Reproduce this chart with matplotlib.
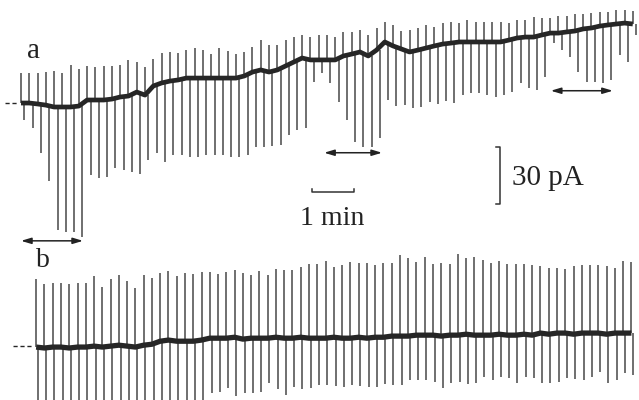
import matplotlib.pyplot as plt
import numpy as np

# trace a: one test pulse every 12 s; holding current (pA, relative to start),
# height of the upward and downward pulse transients (pA)
a_base = [0.0, 0.0, -0.5, -1.1, -2.1, -2.1, -2.1, -1.6, 1.6, 1.6,
          1.6, 2.1, 3.2, 3.7, 5.8, 4.2, 9.0, 10.6, 11.6, 12.2,
          13.2, 13.2, 13.2, 13.2, 13.2, 13.2, 13.2, 14.3, 16.4, 17.5,
          16.4, 17.5, 19.6, 21.7, 23.8, 22.8, 22.8, 22.8, 22.8, 24.9,
          25.9, 27.0, 24.9, 28.0, 32.3, 30.2, 28.6, 27.0, 28.0, 29.1,
          30.2, 31.2, 31.7, 32.3, 32.3, 32.3, 32.3, 32.3, 32.3, 33.3,
          34.4, 34.9, 34.9, 36.0, 37.0, 37.0, 37.6, 38.1, 39.2, 39.7,
          40.7, 41.3, 41.8, 42.3, 41.8]
a_up = [15.9, 15.9, 16.4, 17.5, 19.0, 18.0, 22.2, 19.6, 18.0, 17.5,
        18.0, 17.5, 16.9, 19.0, 15.9, 14.8, 14.3, 15.9, 15.3, 14.3,
        14.8, 15.9, 14.8, 12.7, 15.9, 14.3, 12.7, 12.7, 13.2, 15.9,
        14.3, 13.2, 13.8, 13.2, 12.2, 12.2, 13.2, 13.2, 12.2, 12.7,
        11.6, 11.6, 11.1, 11.6, 10.6, 11.1, 9.5, 11.6, 11.6, 12.2,
        10.1, 11.1, 11.1, 10.1, 11.6, 10.6, 10.6, 10.6, 10.6, 9.0,
        9.5, 9.0, 10.6, 9.0, 7.9, 9.0, 8.5, 9.0, 7.9, 7.9,
        7.4, 6.9, 7.4, 6.9, 6.9]
a_down = [9.0, 13.2, 25.9, 40.2, 65.1, 66.1, 66.1, 69.3, 39.7, 41.3,
          40.7, 36.5, 38.6, 40.2, 43.4, 34.4, 35.4, 41.8, 39.2, 39.7,
          41.8, 41.8, 40.7, 40.7, 40.7, 41.8, 41.8, 41.8, 39.7, 40.7,
          39.2, 39.7, 36.5, 36.0, 37.0, 11.6, 6.9, 12.2, 22.2, 33.9,
          46.6, 50.3, 48.1, 46.6, 30.7, 31.7, 29.6, 29.6, 30.2, 28.6,
          30.7, 30.2, 31.7, 28.0, 27.0, 27.0, 28.0, 29.1, 28.0, 27.5,
          23.8, 27.0, 28.0, 22.2, 5.3, 9.0, 13.2, 21.7, 28.0, 28.6,
          30.2, 29.1, 16.4, 20.6, 5.8]

# trace b
b_base = [-0.5, -1.0, -0.5, -0.5, -1.0, -0.5, -0.5, 0.0, -0.5, 0.0,
          0.5, 0.0, -0.5, 0.5, 1.0, 2.6, 3.2, 2.6, 2.6, 2.6,
          3.2, 4.2, 4.2, 4.2, 4.7, 3.7, 4.2, 4.2, 4.2, 4.7,
          4.2, 4.2, 4.7, 4.2, 4.2, 4.2, 4.7, 4.2, 4.2, 4.7,
          4.2, 4.7, 4.7, 5.3, 5.3, 5.3, 5.8, 5.8, 5.8, 5.3,
          5.8, 5.8, 6.3, 5.8, 5.8, 5.8, 6.3, 5.8, 5.8, 6.3,
          5.8, 6.9, 6.3, 6.9, 6.9, 6.3, 6.9, 6.9, 6.9, 6.3,
          6.9, 6.9, 6.9]
b_up = [35.8, 34.0, 34.0, 33.7, 33.7, 34.0, 34.0, 37.2, 31.9, 35.4,
        37.2, 34.6, 31.1, 36.9, 35.1, 36.1, 36.7, 34.4, 36.1, 35.8,
        35.8, 35.1, 34.2, 35.1, 35.6, 35.1, 33.3, 35.6, 33.3, 36.0,
        36.3, 36.3, 37.4, 39.2, 39.5, 40.9, 37.4, 38.6, 40.4, 39.5,
        39.8, 38.1, 39.5, 38.6, 43.0, 41.3, 38.8, 41.1, 37.6, 38.8,
        37.9, 42.9, 40.1, 41.1, 39.7, 38.3, 38.8, 37.9, 37.6, 37.0,
        37.0, 35.4, 35.1, 34.2, 33.7, 36.0, 36.0, 36.0, 36.0, 36.0,
        34.2, 38.3, 37.7]
b_down = [30.5, 30.0, 30.5, 30.0, 30.5, 30.0, 30.5, 30.0, 30.5, 30.0,
          30.5, 30.0, 30.5, 30.0, 30.5, 33.0, 33.0, 32.5, 33.0, 32.5,
          33.0, 29.1, 28.6, 26.5, 31.2, 28.6, 29.1, 28.6, 23.8, 27.5,
          30.2, 25.9, 27.5, 26.5, 24.9, 24.9, 25.9, 25.9, 24.9, 25.9,
          25.9, 26.5, 24.9, 25.9, 25.9, 23.3, 23.8, 23.8, 24.9, 27.5,
          25.4, 24.9, 26.5, 25.4, 22.2, 23.8, 22.8, 22.8, 25.4, 22.8,
          22.8, 26.5, 25.9, 25.9, 23.8, 23.8, 24.9, 23.3, 20.6, 25.9,
          24.9, 21.2, 22.2]

# periods marked by double arrows (s, on trace a time base)
periods = [(0, 90), (440, 524), (769, 859)]

interval = 12.0      # s between test pulses
a_t = np.arange(len(a_base)) * interval
b_t = np.arange(len(b_base)) * interval + 22.0   # trace b sits a bit to the right
b_shift = -128.6                                  # vertical offset of trace b (pA)

a_base = np.array(a_base)
b_base = np.array(b_base) + b_shift

fig = plt.figure(figsize=(6.39, 4.0), dpi=100)
ax = fig.add_axes([0, 0, 1, 1])
ax.set_xlim(-30.5, 897)
ax.set_ylim(-157.1, 54.5)
ax.axis('off')

spike_col = '#636363'
trace_col = '#262626'

# trace a
ax.vlines(a_t, a_base, a_base + np.array(a_up), color=spike_col, lw=1.3)
ax.vlines(a_t + 5, a_base - np.array(a_down), a_base, color=spike_col, lw=1.3)
ax.plot(a_t, a_base, color=trace_col, lw=3.4, solid_capstyle='butt')
ax.plot([-23, -4], [0, 0], color=trace_col, lw=1, ls=(0, (3, 2)))

# trace b
ax.vlines(b_t, b_base, b_base + np.array(b_up), color=spike_col, lw=1.3)
ax.vlines(b_t + 2.5, b_base - np.array(b_down), b_base, color=spike_col, lw=1.3)
ax.plot(b_t, b_base, color=trace_col, lw=3.8, solid_capstyle='butt')
ax.plot([-12, 17], [b_shift, b_shift], color=trace_col, lw=1, ls=(0, (3, 2)))

# arrows
arrow_y = [-72.9, -26.3, 6.5]
for (t0, t1), y in zip(periods, arrow_y):
    ax.annotate('', xy=(t1, y), xytext=(t0, y),
                arrowprops=dict(arrowstyle='<|-|>,head_length=0.6,head_width=0.18',
                                color='#222222', lw=1.1, shrinkA=0, shrinkB=0))

# scale bars
ax.plot([423, 423, 483, 483], [-45.3, -46.9, -46.9, -45.3], color='#333333', lw=1.1)
ax.text(452, -64.6, '1 min', fontsize=20, family='Liberation Serif',
        ha='center', va='baseline', color='#222222')
ax.plot([690, 695, 695, 690], [-23.4, -23.4, -53.4, -53.4], color='#333333', lw=1.1)
ax.text(712, -43.4, '30 pA', fontsize=21, family='Liberation Serif',
        ha='left', va='baseline', color='#222222')

# trace labels
ax.text(8.5, 23.8, 'a', fontsize=21, family='Liberation Serif', va='baseline', color='#222222')
ax.text(21.5, -86.8, 'b', fontsize=20, family='Liberation Serif', va='baseline', color='#222222')

fig.savefig('out.png', dpi=100, facecolor='white')
